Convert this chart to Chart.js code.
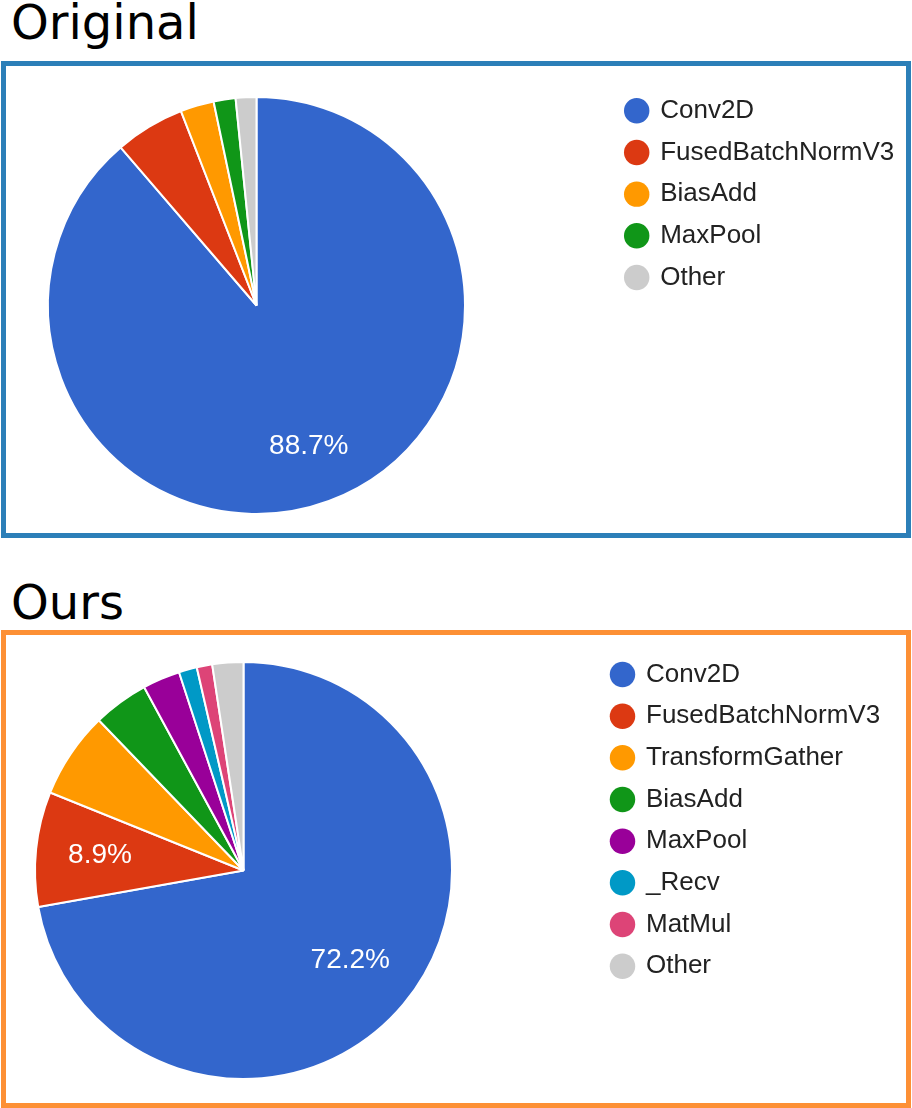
<!DOCTYPE html>
<html>
<head>
<meta charset="utf-8">
<script src="https://cdn.jsdelivr.net/npm/chart.js@4.4.0/dist/chart.umd.min.js"></script>
<style>
html,body{margin:0;padding:0;background:#fff;}
body{width:912px;height:1108px;position:relative;overflow:hidden;}
.title{position:absolute;left:11px;font-family:'DejaVu Sans',sans-serif;font-size:48px;line-height:48px;color:#000;white-space:nowrap;}
.box{position:absolute;left:1px;width:910px;box-sizing:border-box;border:5px solid;}
.box canvas{display:block;}
</style>
</head>
<body>
<div class="title" style="top:-2px">Original</div>
<div class="box" style="top:61px;height:477px;border-color:#2c7fb8"><canvas id="c1" width="900" height="467"></canvas></div>
<div class="title" style="top:578px">Ours</div>
<div class="box" style="top:630px;height:478px;border-color:#fd9035"><canvas id="c2" width="900" height="468"></canvas></div>
<script>
// ---- data ----
const originalLabels = ['Conv2D', 'FusedBatchNormV3', 'BiasAdd', 'MaxPool', 'Other'];
const originalValues = [88.7, 5.4, 2.6, 1.7, 1.6];
const originalColors = ['#3366cc', '#dc3912', '#ff9900', '#109618', '#cccccc'];

const oursLabels = ['Conv2D', 'FusedBatchNormV3', 'TransformGather', 'BiasAdd', 'MaxPool', '_Recv', 'MatMul', 'Other'];
const oursValues = [72.2, 8.9, 6.7, 4.3, 2.9, 1.4, 1.2, 2.4];
const oursColors = ['#3366cc', '#dc3912', '#ff9900', '#109618', '#990099', '#0099c6', '#dd4477', '#cccccc'];

// ---- styles ----
const LEGEND_FONT = 26;
const LEGEND_PAD = 15.67;
const LEGEND_BOXW = 21;
const LABEL_FONT = 28;
const FONT_FAMILY = "'Liberation Sans', Arial, sans-serif";

const legendPlacer = {
  id: 'legendPlacer',
  afterLayout(chart, args, opts) {
    const lg = chart.legend;
    if (!lg) return;
    const left = opts.x - LEGEND_PAD - LEGEND_BOXW / 2;
    const top = opts.y - LEGEND_PAD - LEGEND_FONT / 2;
    lg.left = left; lg.top = top;
    lg.right = chart.width; lg.bottom = chart.height + 1000;
    lg.width = lg.right - left; lg.height = lg.bottom - top;
  }
};

const sliceLabels = {
  id: 'sliceLabels',
  afterDatasetsDraw(chart, args, opts) {
    const ctx = chart.ctx;
    const meta = chart.getDatasetMeta(0);
    const data = chart.data.datasets[0].data;
    const total = data.reduce((a, b) => a + b, 0);
    ctx.save();
    ctx.font = LABEL_FONT + 'px ' + FONT_FAMILY;
    ctx.fillStyle = '#ffffff';
    ctx.textAlign = 'center';
    ctx.textBaseline = 'middle';
    meta.data.forEach((arc, i) => {
      const pct = data[i] / total * 100;
      if (pct < opts.minPct) return;
      const p = arc.getProps(['x', 'y', 'startAngle', 'endAngle', 'outerRadius'], true);
      const text = pct.toFixed(1) + '%';
      const hw = ctx.measureText(text).width / 2, hh = LABEL_FONT * 0.37;
      const a = (p.startAngle + p.endAngle) / 2, ux = Math.cos(a), uy = Math.sin(a);
      const K = p.outerRadius * opts.reach;
      const b = Math.abs(ux) * hw + Math.abs(uy) * hh;
      const c = hw * hw + hh * hh - K * K;
      const d = -b + Math.sqrt(b * b - c);
      ctx.fillText(text, p.x + ux * d, p.y + uy * d);
    });
    ctx.restore();
  }
};

function makeChart(id, labels, values, colors, pad, legendPos) {
  return new Chart(document.getElementById(id), {
    type: 'pie',
    data: {
      labels: labels,
      datasets: [{ data: values, backgroundColor: colors, borderColor: '#ffffff', borderWidth: 2 }]
    },
    options: {
      responsive: false,
      animation: false,
      layout: { padding: pad },
      plugins: {
        tooltip: { enabled: false },
        legend: {
          display: true,
          position: 'right',
          align: 'start',
          maxWidth: 1,
          labels: {
            usePointStyle: true,
            pointStyle: 'circle',
            boxWidth: LEGEND_BOXW,
            boxHeight: 18,
            padding: LEGEND_PAD,
            color: '#222222',
            font: { family: FONT_FAMILY, size: LEGEND_FONT },
            generateLabels(chart) {
              const items = Chart.overrides.doughnut.plugins.legend.labels.generateLabels(chart);
              items.forEach(it => { it.lineWidth = 0; it.strokeStyle = 'rgba(0,0,0,0)'; });
              return items;
            }
          }
        },
        legendPlacer: legendPos,
        sliceLabels: { minPct: 7.5, reach: 0.85 }
      }
    },
    plugins: [legendPlacer, sliceLabels]
  });
}

makeChart('c1', originalLabels, originalValues, originalColors,
  { left: 41, top: 30, right: 439, bottom: 18 }, { x: 630.7, y: 44.8 });
makeChart('c2', oursLabels, oursValues, oursColors,
  { left: 28, top: 26, right: 452, bottom: 23 }, { x: 616.5, y: 39.5 });
</script>
</body>
</html>
